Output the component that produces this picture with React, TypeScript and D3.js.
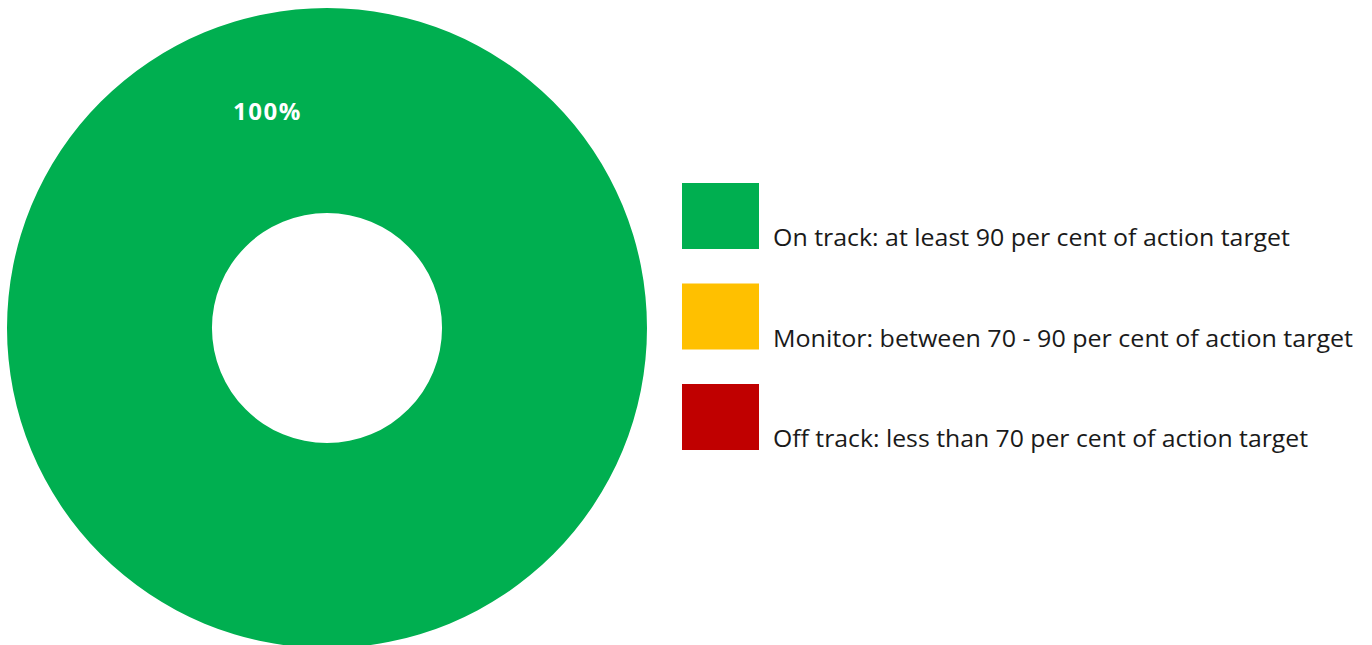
import React from "react";
import * as d3 from "d3";

const categories = [
  "On track: at least 90 per cent of action target",
  "Monitor: between 70 - 90 per cent of action target",
  "Off track: less than 70 per cent of action target",
];
const values = [100, 0, 0];
const colors = ["#00AF50", "#FFC000", "#C00000"];
const labelText = ["100%"];

const W = 1372;
const H = 645;

export default function App() {
  const cx = 327;
  const cy = 328;
  const outerR = 320;
  const innerR = 115;
  const pie = d3.pie<number>().sort(null).value((d) => d)(values);
  const arc = d3.arc<d3.PieArcDatum<number>>().innerRadius(innerR).outerRadius(outerR);
  const labelAngle = -0.27;
  const labelR = (innerR + outerR) / 2 + 6;
  const lx = cx + labelR * Math.sin(labelAngle);
  const ly = cy - labelR * Math.cos(labelAngle);

  const legendX = 682;
  const legendY = d3.scaleLinear().domain([0, 2]).range([183, 384]);
  const textLen = [517, 580, 535];

  return (
    <svg
      width={W}
      height={H}
      style={{ position: "fixed", left: 0, top: 0, background: "#fff" }}
    >
      <g transform={`translate(${cx},${cy})`}>
        {pie.map((p, i) =>
          p.endAngle - p.startAngle > 0 ? (
            <path key={i} d={arc(p) || ""} fill={colors[i]} />
          ) : null
        )}
      </g>
      <text
        x={lx}
        y={ly - 2}
        textAnchor="middle"
        dominantBaseline="central"
        fill="#fff"
        fontFamily="'Open Sans', sans-serif"
        fontWeight={700}
        fontSize={24}
        letterSpacing={1.5}
      >
        {labelText[0]}
      </text>
      {categories.map((c, i) => (
        <g key={c}>
          <rect x={legendX} y={legendY(i)} width={77} height={66} fill={colors[i]} />
          <text
            x={773}
            y={legendY(i) + 63}
            fill="#1a1a1a"
            fontFamily="'Open Sans', sans-serif"
            fontSize={24}
            textLength={textLen[i]}
            lengthAdjust="spacingAndGlyphs"
          >
            {c}
          </text>
        </g>
      ))}
    </svg>
  );
}
